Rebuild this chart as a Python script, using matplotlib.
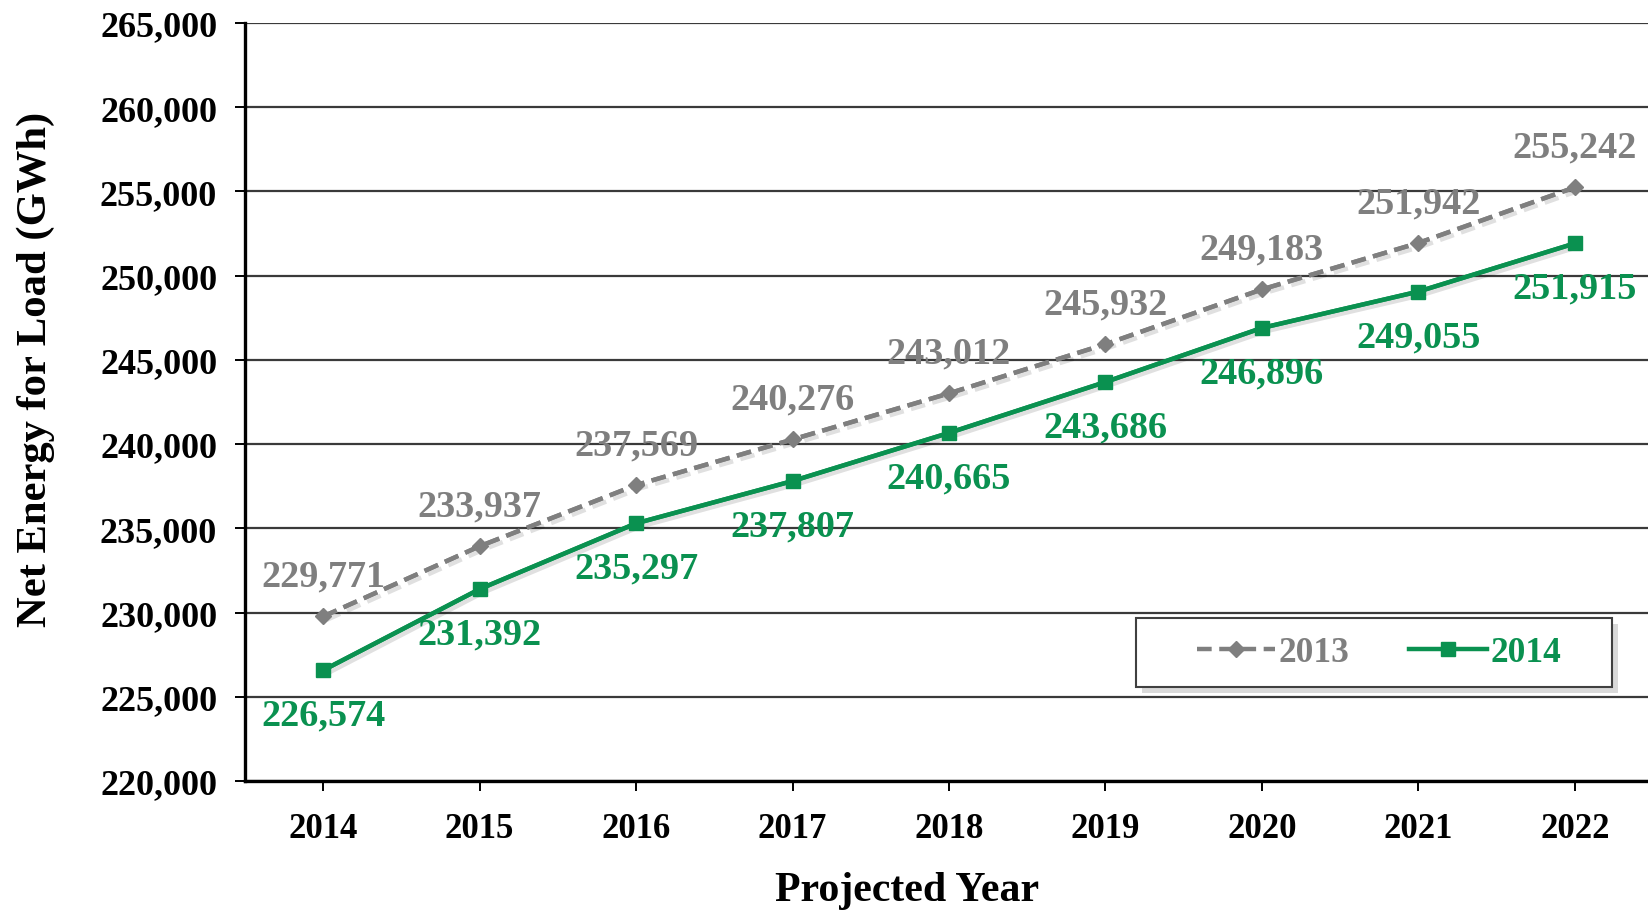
import matplotlib
matplotlib.use("Agg")
import matplotlib.pyplot as plt
import matplotlib.patheffects as pe
from matplotlib.patches import Rectangle
from matplotlib.ticker import FuncFormatter, MultipleLocator

# Forecast data (GWh)
years = ["2014", "2015", "2016", "2017", "2018", "2019", "2020", "2021", "2022"]
forecast_2013 = [229771, 233937, 237569, 240276, 243012, 245932, 249183, 251942, 255242]
forecast_2014 = [226574, 231392, 235297, 237807, 240665, 243686, 246896, 249055, 251915]
series_names = ["2013", "2014"]

GRAY = "#7f7f7f"
GREEN = "#0a9150"

plt.rcParams["font.family"] = ["Liberation Serif", "DejaVu Serif"]
plt.rcParams["font.weight"] = "bold"

W, H = 1649, 912
fig = plt.figure(figsize=(W / 100, H / 100), dpi=100)
fig.patch.set_facecolor("white")

# plot area in pixel units (right edge runs just past the canvas)
left, right, top, bottom = 245, 1653, 24, 782
ax = fig.add_axes([left / W, 1 - bottom / H, (right - left) / W, (bottom - top) / H])

x = list(range(len(years)))

# soft drop shadow under the connecting lines
line_shadow = [pe.SimpleLineShadow(offset=(2.5, -2.5), shadow_color="black", alpha=0.12), pe.Normal()]
ax.plot(x, forecast_2013, color=GRAY, lw=3.2, dashes=(3.3, 1.7), zorder=3, path_effects=line_shadow)
ax.plot(x, forecast_2014, color=GREEN, lw=3.2, zorder=4, path_effects=line_shadow)

l13, = ax.plot(x, forecast_2013, color=GRAY, lw=3.2, dashes=(3.3, 1.7),
               marker="D", markersize=8.5, markerfacecolor=GRAY, markeredgecolor=GRAY,
               label=series_names[0], zorder=3)
l14, = ax.plot(x, forecast_2014, color=GREEN, lw=3.2,
               marker="s", markersize=10.5, markerfacecolor=GREEN, markeredgecolor=GREEN,
               label=series_names[1], zorder=4)

for xi, v in zip(x, forecast_2013):
    ax.annotate(f"{v:,}", (xi, v), xytext=(0, 40), textcoords="offset pixels",
                ha="center", va="center", color=GRAY, fontsize=27.5, fontweight="bold", zorder=5)
for xi, v in zip(x, forecast_2014):
    ax.annotate(f"{v:,}", (xi, v), xytext=(0, -45), textcoords="offset pixels",
                ha="center", va="center", color=GREEN, fontsize=27.5, fontweight="bold", zorder=5)

ax.set_xlim(-0.5, len(years) - 0.5)
ax.set_ylim(220000, 265000)
ax.yaxis.set_major_locator(MultipleLocator(5000))
ax.yaxis.set_major_formatter(FuncFormatter(lambda v, p: f"{int(v):,}"))
ax.set_xticks(x)
ax.set_xticklabels(years)

ax.grid(axis="y", color="#3a3a3a", lw=1.6, zorder=1)
ax.set_axisbelow(True)
for s in ["top", "right"]:
    ax.spines[s].set_visible(False)
for s in ["left", "bottom"]:
    ax.spines[s].set_color("black")
    ax.spines[s].set_linewidth(2.4)

ax.tick_params(axis="y", direction="out", length=7.5, width=1.4, pad=12.5, labelsize=26, colors="black")
ax.tick_params(axis="x", direction="out", length=7, width=1.4, pad=15.5, labelsize=25, colors="black")
for lab in ax.get_xticklabels() + ax.get_yticklabels():
    lab.set_fontweight("bold")

# axis titles
fig.text(36 / W, 1 - 369 / H, "Net Energy for Load (GWh)", rotation=90,
         ha="center", va="center", fontsize=30.7, fontweight="bold")
fig.text(907 / W, 1 - 901 / H, "Projected Year", ha="center", va="baseline",
         fontsize=30.2, fontweight="bold")

# legend box with drop shadow
bx0, bx1, by0, by1 = 1136, 1612, 619, 688
box = Rectangle((bx0 / W, 1 - by1 / H), (bx1 - bx0) / W, (by1 - by0) / H,
                transform=fig.transFigure, facecolor="white", edgecolor="#404040", lw=1.5,
                zorder=6, path_effects=[pe.SimplePatchShadow(offset=(4, -4), shadow_rgbFace="#000000", alpha=0.15),
                                        pe.Normal()])
fig.add_artist(box)

leg = fig.legend(handles=[l13, l14], loc="center",
                 bbox_to_anchor=((bx0 + bx1) / 2 / W + 5 / W, 1 - (by0 + by1) / 2 / H),
                 ncol=2, frameon=False, fontsize=25.5, handlelength=2.2, handletextpad=0.1,
                 columnspacing=1.7, borderpad=0.2)
for t, c in zip(leg.get_texts(), [GRAY, GREEN]):
    t.set_color(c)
    t.set_fontweight("bold")
leg.set_zorder(7)

fig.savefig("out.png", dpi=100, facecolor="white")
